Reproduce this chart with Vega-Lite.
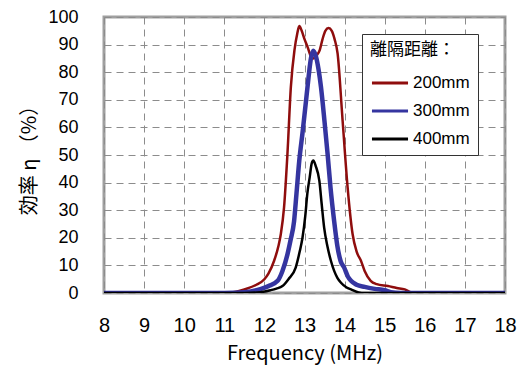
{
  "$schema": "https://vega.github.io/schema/vega-lite/v6.json",
  "width": 401,
  "height": 276,
  "padding": {"left": 19, "top": 8, "right": 10, "bottom": 5},
  "background": "white",
  "config": {
    "view": {"stroke": "#a0a0a0", "strokeWidth": 3},
    "axis": {"domain": false, "ticks": false, "grid": true, "gridColor": "#8c8c8c", "gridDash": [7, 5], "gridWidth": 1, "labelColor": "#000", "titleColor": "#000", "titleFontWeight": "normal"}
  },
  "data": {
    "values": [
      {"f": 8, "v": 0, "s": "200mm"}, {"f": 10, "v": 0, "s": "200mm"}, {"f": 11, "v": 0, "s": "200mm"}, {"f": 11.3, "v": 0.5, "s": "200mm"}, {"f": 11.5, "v": 1.3, "s": "200mm"}, {"f": 11.8, "v": 3, "s": "200mm"}, {"f": 12.0, "v": 5, "s": "200mm"}, {"f": 12.1, "v": 7, "s": "200mm"}, {"f": 12.24, "v": 11.6, "s": "200mm"}, {"f": 12.35, "v": 17, "s": "200mm"}, {"f": 12.41, "v": 21.4, "s": "200mm"}, {"f": 12.49, "v": 31, "s": "200mm"}, {"f": 12.575, "v": 50.5, "s": "200mm"}, {"f": 12.66, "v": 74.7, "s": "200mm"}, {"f": 12.75, "v": 88, "s": "200mm"}, {"f": 12.82, "v": 94, "s": "200mm"}, {"f": 12.87, "v": 96.7, "s": "200mm"}, {"f": 12.93, "v": 95, "s": "200mm"}, {"f": 13.0, "v": 92, "s": "200mm"}, {"f": 13.08, "v": 89, "s": "200mm"}, {"f": 13.15, "v": 86, "s": "200mm"}, {"f": 13.22, "v": 85, "s": "200mm"}, {"f": 13.3, "v": 86, "s": "200mm"}, {"f": 13.38, "v": 88, "s": "200mm"}, {"f": 13.45, "v": 92, "s": "200mm"}, {"f": 13.52, "v": 95, "s": "200mm"}, {"f": 13.6, "v": 96, "s": "200mm"}, {"f": 13.68, "v": 95, "s": "200mm"}, {"f": 13.75, "v": 92, "s": "200mm"}, {"f": 13.825, "v": 86.8, "s": "200mm"}, {"f": 13.95, "v": 62.5, "s": "200mm"}, {"f": 14.075, "v": 38.3, "s": "200mm"}, {"f": 14.2, "v": 21.3, "s": "200mm"}, {"f": 14.3, "v": 15, "s": "200mm"}, {"f": 14.41, "v": 11.6, "s": "200mm"}, {"f": 14.5, "v": 8, "s": "200mm"}, {"f": 14.65, "v": 4.4, "s": "200mm"}, {"f": 14.8, "v": 3.2, "s": "200mm"}, {"f": 15.08, "v": 2.5, "s": "200mm"}, {"f": 15.3, "v": 1.8, "s": "200mm"}, {"f": 15.5, "v": 1.3, "s": "200mm"}, {"f": 15.65, "v": 0.3, "s": "200mm"}, {"f": 16, "v": 0, "s": "200mm"}, {"f": 18, "v": 0, "s": "200mm"},
      {"f": 8, "v": 0, "s": "300mm"}, {"f": 11, "v": 0, "s": "300mm"}, {"f": 11.5, "v": 0.3, "s": "300mm"}, {"f": 11.9, "v": 1.4, "s": "300mm"}, {"f": 12.1, "v": 2.5, "s": "300mm"}, {"f": 12.33, "v": 4.4, "s": "300mm"}, {"f": 12.45, "v": 8, "s": "300mm"}, {"f": 12.575, "v": 14, "s": "300mm"}, {"f": 12.65, "v": 19, "s": "300mm"}, {"f": 12.74, "v": 26, "s": "300mm"}, {"f": 12.8, "v": 36, "s": "300mm"}, {"f": 12.87, "v": 48, "s": "300mm"}, {"f": 12.95, "v": 58, "s": "300mm"}, {"f": 13.03, "v": 68.6, "s": "300mm"}, {"f": 13.1, "v": 78, "s": "300mm"}, {"f": 13.16, "v": 85, "s": "300mm"}, {"f": 13.22, "v": 87.8, "s": "300mm"}, {"f": 13.28, "v": 86, "s": "300mm"}, {"f": 13.35, "v": 81, "s": "300mm"}, {"f": 13.41, "v": 74.7, "s": "300mm"}, {"f": 13.5, "v": 62, "s": "300mm"}, {"f": 13.575, "v": 50.5, "s": "300mm"}, {"f": 13.65, "v": 38, "s": "300mm"}, {"f": 13.74, "v": 26, "s": "300mm"}, {"f": 13.82, "v": 17, "s": "300mm"}, {"f": 13.9, "v": 11.6, "s": "300mm"}, {"f": 13.99, "v": 9.2, "s": "300mm"}, {"f": 14.08, "v": 6, "s": "300mm"}, {"f": 14.16, "v": 4.4, "s": "300mm"}, {"f": 14.3, "v": 3, "s": "300mm"}, {"f": 14.5, "v": 2.2, "s": "300mm"}, {"f": 14.75, "v": 1.5, "s": "300mm"}, {"f": 15.0, "v": 1, "s": "300mm"}, {"f": 15.15, "v": 0.3, "s": "300mm"}, {"f": 15.4, "v": 0, "s": "300mm"}, {"f": 18, "v": 0, "s": "300mm"},
      {"f": 8, "v": 0, "s": "400mm"}, {"f": 11.5, "v": 0, "s": "400mm"}, {"f": 11.9, "v": 0.3, "s": "400mm"}, {"f": 12.15, "v": 1, "s": "400mm"}, {"f": 12.3, "v": 1.6, "s": "400mm"}, {"f": 12.45, "v": 2.5, "s": "400mm"}, {"f": 12.6, "v": 5, "s": "400mm"}, {"f": 12.78, "v": 9.2, "s": "400mm"}, {"f": 12.88, "v": 15, "s": "400mm"}, {"f": 12.95, "v": 20, "s": "400mm"}, {"f": 13.02, "v": 28, "s": "400mm"}, {"f": 13.07, "v": 35.9, "s": "400mm"}, {"f": 13.13, "v": 42, "s": "400mm"}, {"f": 13.18, "v": 47, "s": "400mm"}, {"f": 13.22, "v": 48, "s": "400mm"}, {"f": 13.28, "v": 46, "s": "400mm"}, {"f": 13.37, "v": 40.7, "s": "400mm"}, {"f": 13.43, "v": 32, "s": "400mm"}, {"f": 13.49, "v": 23.7, "s": "400mm"}, {"f": 13.57, "v": 17, "s": "400mm"}, {"f": 13.66, "v": 11.6, "s": "400mm"}, {"f": 13.74, "v": 8, "s": "400mm"}, {"f": 13.82, "v": 5.5, "s": "400mm"}, {"f": 13.91, "v": 3.7, "s": "400mm"}, {"f": 14.05, "v": 2, "s": "400mm"}, {"f": 14.16, "v": 1.3, "s": "400mm"}, {"f": 14.35, "v": 0.2, "s": "400mm"}, {"f": 14.5, "v": 0, "s": "400mm"}, {"f": 18, "v": 0, "s": "400mm"}
    ]
  },
  "mark": {"type": "line", "interpolate": "monotone", "clip": true},
  "encoding": {
    "x": {
      "field": "f", "type": "quantitative",
      "scale": {"domain": [8, 18], "nice": false},
      "axis": {"values": [8, 9, 10, 11, 12, 13, 14, 15, 16, 17, 18], "labelFont": "Liberation Sans", "labelFontSize": 20, "labelPadding": 22, "labelFlush": false, "title": "Frequency (MHz)", "titleFont": "Noto Sans CJK JP", "titleFontSize": 20, "titlePadding": 8}
    },
    "y": {
      "field": "v", "type": "quantitative",
      "scale": {"domain": [0, 100], "nice": false},
      "axis": {"values": [0, 10, 20, 30, 40, 50, 60, 70, 80, 90, 100], "labelFont": "Liberation Sans", "labelFontSize": 18, "labelPadding": 26, "labelFlush": false, "title": "効率 η （%）", "titleFont": "Noto Sans CJK JP", "titleFontSize": 20, "titlePadding": 8}
    },
    "strokeWidth": {"condition": {"test": "datum.s === '300mm'", "value": 4.5}, "value": 2.5},
    "color": {
      "field": "s", "type": "nominal",
      "scale": {"domain": ["200mm", "300mm", "400mm"], "range": ["#8f0d0d", "#3535a0", "#000000"]},
      "legend": {
        "title": "離隔距離：", "orient": "none", "legendX": 258, "legendY": 17,
        "titleFont": "Noto Sans CJK JP", "titleFontSize": 17, "titleFontWeight": "normal", "titleColor": "#000", "titlePadding": 4,
        "labelFont": "Liberation Sans", "labelFontSize": 17, "labelColor": "#000",
        "symbolType": "stroke", "symbolSize": 1300, "symbolStrokeWidth": 3,
        "strokeColor": "#333", "fillColor": "white", "padding": 8, "rowPadding": -10, "labelOffset": 3
      }
    }
  }
}
